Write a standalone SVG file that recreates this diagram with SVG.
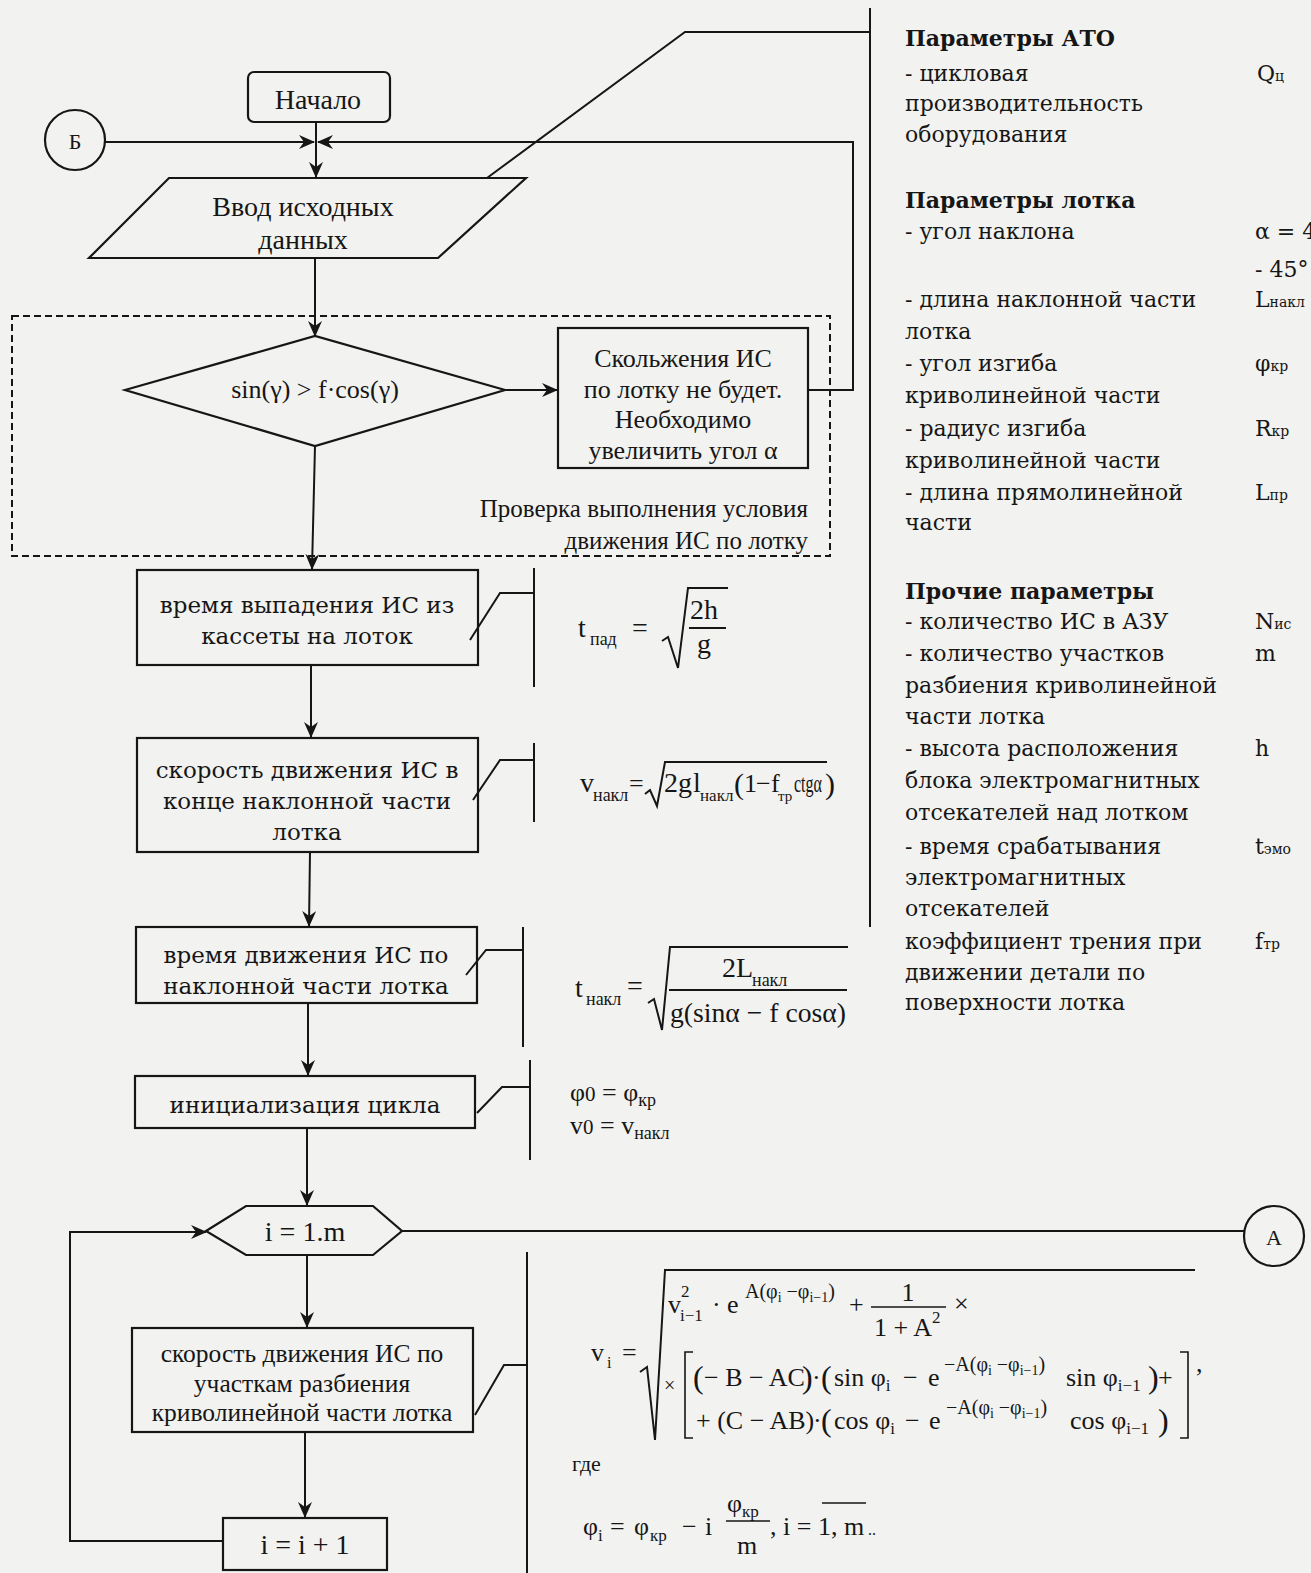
<svg xmlns="http://www.w3.org/2000/svg" width="1311" height="1573" viewBox="0 0 1311 1573">
<style>
.ln{fill:none;stroke:#161616;stroke-width:2}
.bx{fill:none;stroke:#161616;stroke-width:2.2}
.ds{fill:none;stroke:#161616;stroke-width:2;stroke-dasharray:7,4}
.t{font-family:"Liberation Serif",serif;font-size:25px;fill:#161616}
.b{font-family:"DejaVu Serif",serif;font-size:23px;fill:#161616}
.p{font-family:"DejaVu Serif",serif;font-size:22px;fill:#161616}
.ph{font-family:"DejaVu Serif",serif;font-size:22px;font-weight:bold;fill:#161616}
.f{font-family:"Liberation Serif",serif;font-size:28px;fill:#161616}
.fm{font-family:"Liberation Serif",serif;font-size:26px;fill:#161616}
.fs{font-family:"Liberation Serif",serif;font-size:18px;fill:#161616}
.ex{font-family:"Liberation Serif",serif;font-size:20px;fill:#161616}
.sb{font-size:14px}
.c{text-anchor:middle}
</style>
<defs>
<marker id="ah" markerUnits="userSpaceOnUse" markerWidth="16" markerHeight="14" refX="15" refY="7" orient="auto">
<path d="M0,0 L16,7 L0,14 L5,7 Z" fill="#161616"/>
</marker>
</defs>
<rect width="1311" height="1573" fill="#f2f2f0"/>

<g id="connectors">
<line class="ln" x1="316" y1="122" x2="316" y2="177" marker-end="url(#ah)"/>
<line class="ln" x1="105" y1="142" x2="314" y2="142" marker-end="url(#ah)"/>
<polyline class="ln" points="808,390 853,390 853,142 318,142" marker-end="url(#ah)"/>
<line class="ln" x1="315" y1="258" x2="315" y2="336" marker-end="url(#ah)"/>
<line class="ln" x1="505" y1="390" x2="557" y2="390" marker-end="url(#ah)"/>
<line class="ln" x1="315" y1="446" x2="312" y2="569" marker-end="url(#ah)"/>
<line class="ln" x1="311" y1="665" x2="311" y2="737" marker-end="url(#ah)"/>
<line class="ln" x1="310" y1="852" x2="309" y2="926" marker-end="url(#ah)"/>
<line class="ln" x1="308" y1="1003" x2="308" y2="1075" marker-end="url(#ah)"/>
<line class="ln" x1="307" y1="1128" x2="307" y2="1205" marker-end="url(#ah)"/>
<line class="ln" x1="307" y1="1255" x2="307" y2="1327" marker-end="url(#ah)"/>
<line class="ln" x1="305" y1="1432" x2="305" y2="1517" marker-end="url(#ah)"/>
<polyline class="ln" points="223,1541 70,1541 70,1232 206,1232" marker-end="url(#ah)"/>
<line class="ln" x1="402" y1="1231" x2="1244" y2="1231"/>
<polyline class="ln" points="870,8 870,927"/>
<polyline class="ln" points="487,178 685,32 870,32"/>
<polyline class="ln" points="470,640 500,593 534,593"/>
<line class="ln" x1="534" y1="568" x2="534" y2="687"/>
<polyline class="ln" points="473,800 500,760 534,760"/>
<line class="ln" x1="534" y1="743" x2="534" y2="822"/>
<polyline class="ln" points="466,975 486,950 523,950"/>
<line class="ln" x1="523" y1="927" x2="523" y2="1047"/>
<polyline class="ln" points="477,1113 502,1087 530,1087"/>
<line class="ln" x1="530" y1="1060" x2="530" y2="1160"/>
<polyline class="ln" points="475,1415 504,1365 527,1365"/>
<line class="ln" x1="527" y1="1252" x2="527" y2="1573"/>
</g>

<g id="conn-B">
<circle class="bx" cx="75" cy="140" r="30"/>
<text class="t c" x="75" y="149" style="font-size:22px">Б</text>
</g>
<g id="conn-A">
<circle class="bx" cx="1274" cy="1236" r="30"/>
<text class="t c" x="1274" y="1245" style="font-size:22px">А</text>
</g>

<g id="start">
<rect class="bx" x="248" y="72" width="142" height="50" rx="6"/>
<text class="t c" x="318" y="109" style="font-size:28px">Начало</text>
</g>

<g id="input">
<polygon class="bx" points="169,178 526,178 438,258 89,258"/>
<text class="t c" x="303" y="216" style="font-size:28px">Ввод исходных</text>
<text class="t c" x="303" y="249" style="font-size:28px">данных</text>
</g>

<g id="check-group">
<rect class="ds" x="12" y="316" width="818" height="240"/>
<text class="t" x="808" y="517" text-anchor="end">Проверка выполнения условия</text>
<text class="t" x="808" y="549" text-anchor="end">движения ИС по лотку</text>
</g>

<g id="decision">
<polygon class="bx" points="125,390 315,336 505,390 315,446"/>
<text class="t c" x="315" y="398" style="font-size:26px">sin(γ) &gt; f·cos(γ)</text>
</g>

<g id="no-slide">
<rect class="bx" x="558" y="328" width="250" height="140"/>
<text class="t c" x="683" y="367" style="font-size:26px">Скольжения ИС</text>
<text class="t c" x="683" y="398" style="font-size:26px">по лотку не будет.</text>
<text class="t c" x="683" y="428" style="font-size:26px">Необходимо</text>
<text class="t c" x="683" y="459" style="font-size:26px">увеличить угол α</text>
</g>

<g id="fall-time">
<rect class="bx" x="137" y="570" width="341" height="95"/>
<text class="b c" x="307" y="613">время выпадения ИС из</text>
<text class="b c" x="307" y="644">кассеты на лоток</text>
</g>

<g id="incline-speed">
<rect class="bx" x="137" y="738" width="341" height="114"/>
<text class="b c" x="307" y="778">скорость движения ИС в</text>
<text class="b c" x="307" y="809">конце наклонной части</text>
<text class="b c" x="307" y="840">лотка</text>
</g>

<g id="incline-time">
<rect class="bx" x="136" y="927" width="341" height="76"/>
<text class="b c" x="306" y="963">время движения ИС по</text>
<text class="b c" x="306" y="994">наклонной части лотка</text>
</g>

<g id="init">
<rect class="bx" x="135" y="1076" width="340" height="52"/>
<text class="b c" x="305" y="1113">инициализация цикла</text>
</g>

<g id="loop">
<polygon class="bx" points="206,1231 246,1206 373,1206 402,1231 373,1255 246,1255"/>
<text class="t c" x="305" y="1241" style="font-size:28px">i = 1.m</text>
</g>

<g id="segment-speed">
<rect class="bx" x="132" y="1328" width="341" height="104"/>
<text class="t c" x="302" y="1362" style="font-size:25.5px">скорость движения ИС по</text>
<text class="t c" x="302" y="1392" style="font-size:25.5px">участкам разбиения</text>
<text class="t c" x="302" y="1421" style="font-size:25.5px">криволинейной части лотка</text>
</g>

<g id="increment">
<rect class="bx" x="223" y="1518" width="164" height="52"/>
<text class="t c" x="305" y="1554" style="font-size:28px">i = i + 1</text>
</g>

<g id="formula-tpad">
<text class="f" x="578" y="637">t</text>
<text class="fs" x="590" y="645">пад</text>
<text class="f" x="632" y="637">=</text>
<path class="ln" d="M662,641 L668,637 L678,668 L688,588 L728,588"/>
<text class="f" x="690" y="619">2h</text>
<line class="ln" x1="689" y1="628" x2="726" y2="628"/>
<text class="f" x="697" y="653">g</text>
</g>

<g id="formula-vnakl">
<text class="f" x="580" y="792">v</text>
<text class="fs" x="593" y="801">накл</text>
<text class="fm" x="629" y="792">=</text>
<path class="ln" d="M645,794 L650,790 L657,806 L665,762 L827,762"/>
<text class="f" x="664" y="792">2g</text>
<text class="f" x="693" y="792">l</text>
<text class="fs" x="700" y="801" style="font-size:17px">накл</text>
<text class="f" x="734" y="794" style="font-size:30px">(</text>
<text class="fm" x="744" y="792">1</text>
<text class="fm" x="756" y="792">−</text>
<text class="fm" x="771" y="792">f</text>
<text class="fs" x="778" y="801" style="font-size:15px">тр</text>
<text class="fm" x="794" y="792" textLength="28" lengthAdjust="spacingAndGlyphs">ctgα</text>
<text class="f" x="825" y="794" style="font-size:30px">)</text>
</g>

<g id="formula-tnakl">
<text class="f" x="575" y="997">t</text>
<text class="fs" x="586" y="1005">накл</text>
<text class="f" x="627" y="995">=</text>
<path class="ln" d="M648,1003 L654,999 L662,1030 L670,947 L848,947"/>
<text class="f" x="722" y="977">2L</text>
<text class="fs" x="752" y="986">накл</text>
<line class="ln" x1="669" y1="990" x2="847" y2="990"/>
<text class="f" x="670" y="1022" textLength="176" lengthAdjust="spacingAndGlyphs">g(sinα − f cosα)</text>
</g>

<g id="formula-init">
<text class="fm" x="570" y="1101">φ<tspan style="font-size:21px">0</tspan> = φ<tspan style="font-size:18px" dy="5">кр</tspan></text>
<text class="fm" x="570" y="1134">v<tspan style="font-size:21px">0</tspan> = v<tspan style="font-size:18px" dy="5">накл</tspan></text>
</g>

<g id="formula-vi">
<text class="fm" x="591" y="1361">v</text>
<text class="fs" x="607" y="1368" style="font-size:16px">i</text>
<text class="fm" x="622" y="1361">=</text>
<path class="ln" d="M640,1372 L647,1367 L655,1440 L665,1270 L1195,1270"/>
<text class="fm" x="668" y="1313">v</text>
<text class="fs" x="681" y="1297" style="font-size:17px">2</text>
<text class="fs" x="680" y="1321" style="font-size:17px">i−1</text>
<text class="fm" x="712" y="1313">·</text>
<text class="fm" x="727" y="1313">e</text>
<text class="ex" x="745" y="1298">A(φ<tspan dy="4" style="font-size:14px">i</tspan><tspan dy="-4"> −φ</tspan><tspan dy="4" style="font-size:14px">i−1</tspan><tspan dy="-4">)</tspan></text>
<text class="fm" x="849" y="1313">+</text>
<text class="fm c" x="908" y="1301">1</text>
<line class="ln" x1="871" y1="1307" x2="946" y2="1307" style="stroke-width:1.6"/>
<text class="fm" x="874" y="1336">1 + A</text>
<text class="fs" x="932" y="1323" style="font-size:17px">2</text>
<text class="fm" x="954" y="1312">×</text>
<text class="fs" x="664" y="1392" style="font-size:20px">×</text>
<path class="ln" d="M693,1352 L685,1352 L685,1438 L693,1438" style="stroke-width:1.6"/>
<text class="f" x="693" y="1388" style="font-size:32px">(</text>
<text class="fm" x="704" y="1386">− B − AC</text>
<text class="f" x="802" y="1388" style="font-size:32px">)</text>
<text class="fm" x="812" y="1386">·</text>
<text class="f" x="821" y="1388" style="font-size:32px">(</text>
<text class="fm" x="834" y="1386">sin φ<tspan dy="5" style="font-size:17px">i</tspan></text>
<text class="fm" x="903" y="1386">−</text>
<text class="fm" x="928" y="1386">e</text>
<text class="ex" x="944" y="1371">−A(φ<tspan dy="4" style="font-size:14px">i</tspan><tspan dy="-4"> −φ</tspan><tspan dy="4" style="font-size:14px">i−1</tspan><tspan dy="-4">)</tspan></text>
<text class="fm" x="1066" y="1386">sin φ<tspan dy="5" style="font-size:17px">i−1</tspan></text>
<text class="f" x="1148" y="1388" style="font-size:32px">)</text>
<text class="fm" x="1158" y="1386">+</text>
<text class="fm" x="696" y="1429">+ (C − AB)</text>
<text class="fm" x="813" y="1429">·</text>
<text class="f" x="821" y="1431" style="font-size:32px">(</text>
<text class="fm" x="834" y="1429">cos φ<tspan dy="5" style="font-size:17px">i</tspan></text>
<text class="fm" x="905" y="1429">−</text>
<text class="fm" x="929" y="1429">e</text>
<text class="ex" x="946" y="1414">−A(φ<tspan dy="4" style="font-size:14px">i</tspan><tspan dy="-4"> −φ</tspan><tspan dy="4" style="font-size:14px">i−1</tspan><tspan dy="-4">)</tspan></text>
<text class="fm" x="1070" y="1429">cos φ<tspan dy="5" style="font-size:17px">i−1</tspan></text>
<text class="f" x="1158" y="1431" style="font-size:32px">)</text>
<path class="ln" d="M1180,1352 L1188,1352 L1188,1438 L1180,1438" style="stroke-width:1.6"/>
<text class="fm" x="1196" y="1372">,</text>
<text class="t" x="572" y="1471" style="font-size:22px">где</text>
<text class="fm" x="583" y="1535">φ</text>
<text class="fs" x="598" y="1541" style="font-size:17px">i</text>
<text class="fm" x="610" y="1535">=</text>
<text class="fm" x="634" y="1535">φ</text>
<text class="fs" x="650" y="1541" style="font-size:17px">кр</text>
<text class="fm" x="682" y="1535">−</text>
<text class="fm" x="705" y="1535">i</text>
<text class="fm" x="727" y="1512">φ<tspan dy="5" style="font-size:17px">кр</tspan></text>
<line class="ln" x1="726" y1="1521" x2="770" y2="1521" style="stroke-width:1.6"/>
<text class="fm" x="737" y="1554">m</text>
<text class="fm" x="770" y="1535">, i = 1, m</text>
<line class="ln" x1="822" y1="1503" x2="866" y2="1503" style="stroke-width:1.6"/>
<text class="fm" x="868" y="1535" style="font-size:16px">..</text>
</g>

<g id="params">
<text class="ph" x="905" y="46">Параметры АТО</text>
<text class="p" x="905" y="81">- цикловая</text>
<text class="p" x="905" y="111">производительность</text>
<text class="p" x="905" y="142">оборудования</text>
<text class="p" x="1257" y="81">Q<tspan class="sb">ц</tspan></text>
<text class="ph" x="905" y="208">Параметры лотка</text>
<text class="p" x="905" y="239">- угол наклона</text>
<text class="p" x="1255" y="239">α = 4</text>
<text class="p" x="1255" y="277">- 45°</text>
<text class="p" x="905" y="307">- длина наклонной части</text>
<text class="p" x="1255" y="307">L<tspan class="sb">накл</tspan></text>
<text class="p" x="905" y="339">лотка</text>
<text class="p" x="905" y="371">- угол изгиба</text>
<text class="p" x="1255" y="371">φ<tspan class="sb">кр</tspan></text>
<text class="p" x="905" y="403">криволинейной части</text>
<text class="p" x="905" y="436">- радиус изгиба</text>
<text class="p" x="1255" y="436">R<tspan class="sb">кр</tspan></text>
<text class="p" x="905" y="468">криволинейной части</text>
<text class="p" x="905" y="500">- длина прямолинейной</text>
<text class="p" x="1255" y="500">L<tspan class="sb">пр</tspan></text>
<text class="p" x="905" y="530">части</text>
<text class="ph" x="905" y="599">Прочие параметры</text>
<text class="p" x="905" y="629">- количество ИС в АЗУ</text>
<text class="p" x="1255" y="629">N<tspan class="sb">ис</tspan></text>
<text class="p" x="905" y="661">- количество участков</text>
<text class="p" x="1255" y="661">m</text>
<text class="p" x="905" y="693">разбиения криволинейной</text>
<text class="p" x="905" y="724">части лотка</text>
<text class="p" x="905" y="756">- высота расположения</text>
<text class="p" x="1255" y="756">h</text>
<text class="p" x="905" y="788">блока электромагнитных</text>
<text class="p" x="905" y="820">отсекателей над лотком</text>
<text class="p" x="905" y="854">- время срабатывания</text>
<text class="p" x="1255" y="854">t<tspan class="sb">эмо</tspan></text>
<text class="p" x="905" y="885">электромагнитных</text>
<text class="p" x="905" y="916">отсекателей</text>
<text class="p" x="905" y="949">коэффициент трения при</text>
<text class="p" x="1255" y="949">f<tspan class="sb">тр</tspan></text>
<text class="p" x="905" y="980">движении детали по</text>
<text class="p" x="905" y="1010">поверхности лотка</text>
</g>
</svg>
